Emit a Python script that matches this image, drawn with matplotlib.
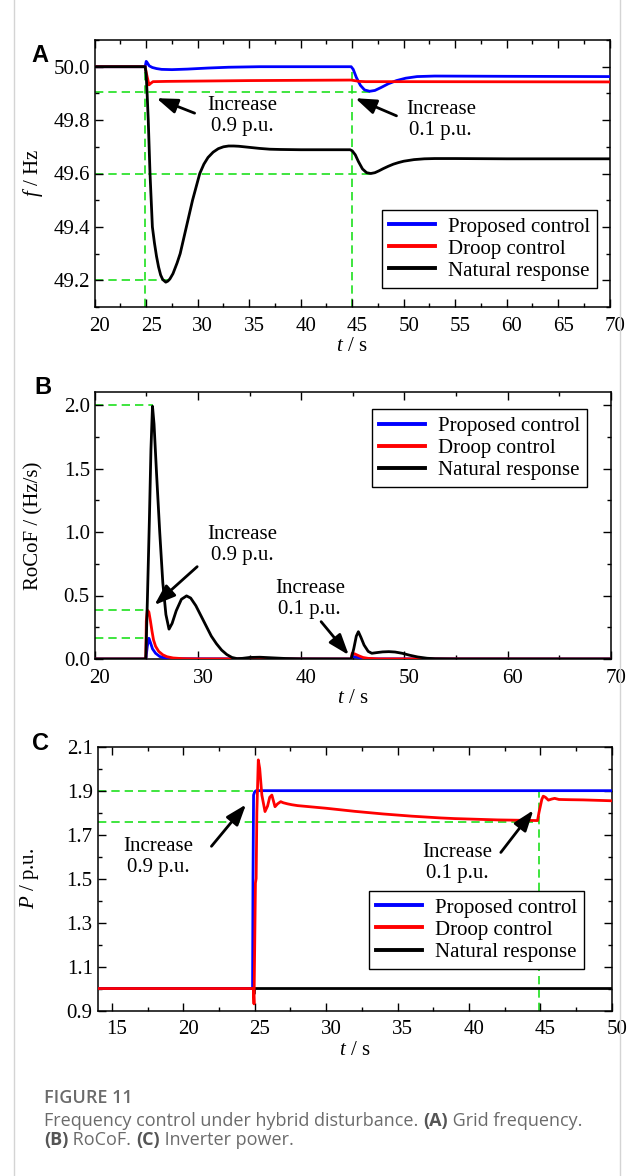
import matplotlib
matplotlib.use("Agg")
import matplotlib.pyplot as plt
import matplotlib.transforms as mtransforms
import numpy as np

plt.rcParams['font.family'] = ['Liberation Serif', 'DejaVu Serif']
plt.rcParams['mathtext.fontset'] = 'custom'
plt.rcParams['mathtext.rm'] = 'Liberation Serif'
plt.rcParams['mathtext.it'] = 'Liberation Serif:italic'

# ---------------- (A) grid frequency ----------------
tA_black = [20, 24.9, 25.0, 25.1, 25.2, 25.37, 25.6, 25.8, 26.0, 26.2, 26.4, 26.6, 26.9,
            27.1, 27.3, 27.6, 28.0, 28.3, 28.6, 28.9, 29.2, 29.5, 29.85, 30.2, 30.6, 31.0,
            31.5, 32.0, 32.5, 33.0, 33.5, 34.0, 35.0, 36.0, 37.0, 38.0, 40.0, 44.8, 45.0,
            45.3, 45.6, 46.0, 46.4, 46.8, 47.2, 47.6, 48.0, 48.5, 49.0, 49.5, 50.0, 51.0,
            52.0, 53.0, 55.0, 60.0, 70.0]
fA_black = [50.0, 50.0, 49.97, 49.89, 49.8, 49.6, 49.4, 49.34, 49.29, 49.25, 49.22, 49.203, 49.193,
            49.197, 49.205, 49.225, 49.265, 49.30, 49.35, 49.40, 49.45, 49.50, 49.55, 49.60, 49.635, 49.66,
            49.68, 49.693, 49.70, 49.703, 49.703, 49.702, 49.698, 49.694, 49.691, 49.69, 49.689, 49.689, 49.685,
            49.67, 49.645, 49.617, 49.603, 49.60, 49.603, 49.61, 49.618, 49.627, 49.635, 49.641, 49.646, 49.652,
            49.655, 49.656, 49.656, 49.655, 49.655]

tA_blue = [20, 24.9, 25.0, 25.1, 25.3, 25.6, 26.0, 26.5, 27.5, 29.0, 31.0, 33.0, 36.0, 44.9,
           45.1, 45.4, 45.8, 46.2, 46.7, 47.2, 47.8, 48.5, 49.3, 50.2, 51.3, 53.0, 60.0, 70.0]
fA_blue = [50.0, 50.0, 50.02, 50.015, 50.003, 49.997, 49.993, 49.99, 49.989, 49.991, 49.995, 49.998, 50.0, 50.0,
           49.99, 49.96, 49.93, 49.913, 49.908, 49.911, 49.922, 49.936, 49.948, 49.957, 49.963, 49.965, 49.964, 49.963]

tA_red = [20, 24.9, 25.05, 25.27, 25.45, 25.66, 27.0, 35.0, 44.9, 45.2, 45.7, 46.3, 50.0, 70.0]
fA_red = [50.0, 50.0, 49.97, 49.932, 49.938, 49.944, 49.945, 49.948, 49.95, 49.948, 49.945, 49.944, 49.944, 49.943]

# ---------------- (B) RoCoF ----------------
tB_black = [20, 24.95, 25.1, 25.3, 25.45, 25.6, 25.75, 26.0, 26.3, 26.6, 26.9, 27.2, 27.5, 27.9,
            28.4, 28.9, 29.3, 29.8, 30.3, 30.8, 31.3, 31.8, 32.3, 32.8, 33.3, 33.8, 34.3, 35.0,
            36.0, 37.0, 38.5, 40.0, 44.85, 45.1, 45.35, 45.55, 45.8, 46.1, 46.5, 46.85, 47.3,
            47.9, 48.5, 49.1, 49.8, 50.5, 51.3, 52.2, 53.0, 55.0, 70.0]
rB_black = [0, 0, 0.45, 1.1, 1.65, 1.99, 1.85, 1.45, 1.0, 0.6, 0.35, 0.235, 0.28, 0.38,
            0.47, 0.497, 0.48, 0.42, 0.34, 0.26, 0.18, 0.12, 0.07, 0.035, 0.012, 0.003, 0.005, 0.012,
            0.014, 0.01, 0.004, 0.001, 0, 0.08, 0.18, 0.215, 0.17, 0.11, 0.06, 0.045, 0.05,
            0.056, 0.058, 0.055, 0.045, 0.03, 0.016, 0.006, 0.002, 0, 0]

tB_red = [20, 24.95, 25.0, 25.1, 25.25, 25.4, 25.55, 25.7, 25.9, 26.2, 26.6, 27.0, 27.6, 28.5,
          30.0, 44.85, 44.95, 45.2, 45.6, 46.0, 46.5, 47.5, 70.0]
rB_red = [0, 0, 0.30, 0.385, 0.37, 0.30, 0.22, 0.15, 0.10, 0.06, 0.033, 0.018, 0.008, 0.003,
          0.001, 0, 0.045, 0.04, 0.025, 0.012, 0.005, 0.001, 0]

tB_blue = [20, 24.95, 25.1, 25.25, 25.4, 25.6, 25.9, 26.3, 26.8, 27.5, 29.0, 44.85, 45.0, 45.4,
           46.0, 47.0, 70.0]
rB_blue = [0, 0, 0.1, 0.163, 0.13, 0.08, 0.045, 0.02, 0.008, 0.003, 0.002, 0, 0.02, 0.015,
           0.005, 0.001, 0]

# ---------------- (C) inverter power ----------------
tC_black = [14, 24.9, 24.95, 25.0, 50.0]
pC_black = [1.0, 1.0, 0.975, 1.0, 1.0]

tC_blue = [14, 24.85, 24.88, 24.92, 25.0, 25.1, 44.9, 50.0]
pC_blue = [1.0, 1.0, 1.5, 1.88, 1.895, 1.9, 1.9, 1.9]

tC_red = [14, 24.9, 24.95, 25.0, 25.05, 25.1, 25.15, 25.25, 25.35, 25.5, 25.72, 25.9, 26.05, 26.2,
          26.42, 26.6, 26.82, 27.0, 27.3, 27.6, 28.0, 29.0, 30.0, 31.0, 32.0, 33.0, 34.0, 35.0,
          36.0, 37.0, 38.0, 39.0, 40.0, 41.0, 42.0, 43.0, 44.0, 44.8, 44.9, 45.0, 45.1, 45.2,
          45.35, 45.56, 45.8, 46.0, 46.3, 47.0, 48.0, 49.0, 50.0]
pC_red = [1.0, 1.0, 0.93, 1.2, 1.48, 1.5, 1.8, 2.04, 2.0, 1.88, 1.805, 1.83, 1.87, 1.88,
          1.827, 1.84, 1.85, 1.845, 1.84, 1.836, 1.832, 1.826, 1.82, 1.813, 1.806, 1.80, 1.794, 1.789,
          1.784, 1.78, 1.776, 1.773, 1.771, 1.769, 1.767, 1.766, 1.765, 1.764, 1.80, 1.83, 1.86, 1.875,
          1.87, 1.857, 1.862, 1.865, 1.86, 1.859, 1.858, 1.856, 1.854]

labels = ['Proposed control', 'Droop control', 'Natural response']

GREEN = '#1ee01e'
FS = 15
LW = 2.0


def style_axes(ax, xmaj, xmin, ymaj, ymin, yoff=0.0):
    ax.xaxis.set_major_locator(plt.MultipleLocator(xmaj))
    ax.xaxis.set_minor_locator(plt.MultipleLocator(xmin))
    ax.yaxis.set_major_locator(plt.MultipleLocator(ymaj, offset=yoff))
    ax.yaxis.set_minor_locator(plt.MultipleLocator(ymin))
    ax.tick_params(which='both', direction='in', top=True, right=True, width=1.0)
    ax.tick_params(which='major', length=6)
    ax.tick_params(which='minor', length=3)
    ax.tick_params(axis='x', pad=7, labelsize=FS)
    ax.tick_params(axis='y', pad=3.5, labelsize=FS)
    for s in ax.spines.values():
        s.set_linewidth(1.1)
    # tick labels sit a little right of their ticks in the original
    off = mtransforms.ScaledTranslation(5 / 100, 0, ax.figure.dpi_scale_trans)
    for lab in ax.get_xticklabels():
        lab.set_transform(lab.get_transform() + off)


def guide(ax, xs, ys):
    ax.plot(xs, ys, color=GREEN, lw=1.2, ls=(0, (5, 3)), zorder=1)


def note(ax, text, xy_text, xy_head, xy_tail):
    ax.text(xy_text[0], xy_text[1], text, ha='center', va='center', fontsize=FS,
            linespacing=1.15)
    ax.annotate('', xy=xy_head, xytext=xy_tail,
                arrowprops=dict(arrowstyle='-|>,head_length=0.7,head_width=0.25',
                                color='k', lw=2.0, mutation_scale=18, shrinkA=0, shrinkB=0))


def add_legend(ax, handles, loc, anchor):
    leg = ax.legend(handles, labels, loc=loc, bbox_to_anchor=anchor, borderaxespad=0, fontsize=FS,
                    fancybox=False, edgecolor='k', framealpha=1, borderpad=0.35,
                    labelspacing=0.12, handlelength=2.2, handletextpad=0.6)
    leg.get_frame().set_linewidth(1.0)
    for h in leg.get_lines():
        h.set_linewidth(2.8)


fig = plt.figure(figsize=(6.32, 11.76), dpi=100)

# light frame of the figure page
fig.add_artist(plt.Line2D([14 / 632, 14 / 632], [0, 1], color='#d4d4d4', lw=1.0))
fig.add_artist(plt.Line2D([620 / 632, 620 / 632], [0, 1], color='#d4d4d4', lw=1.0))

# ----- panel A -----
axA = fig.add_axes([94.7 / 632, 1 - 307 / 1176, 515 / 632, 267 / 1176])
guide(axA, [20, 46.8], [49.907, 49.907])
guide(axA, [20, 46.8], [49.6, 49.6])
guide(axA, [20, 27.6], [49.2, 49.2])
guide(axA, [24.9, 24.9], [49.1, 50.0])
guide(axA, [44.95, 44.95], [49.1, 50.0])
bA, = axA.plot(tA_blue, fA_blue, color='#0000ff', lw=LW, zorder=3)
rA, = axA.plot(tA_red, fA_red, color='#ff0000', lw=LW, zorder=3)
kA, = axA.plot(tA_black, fA_black, color='k', lw=LW, zorder=4)
axA.set_xlim(20, 70)
axA.set_ylim(49.1, 50.1)
style_axes(axA, 5, 2.5, 0.2, 0.1)
axA.yaxis.set_major_formatter(plt.FormatStrFormatter('%.1f'))
axA.set_xlabel(r'$t$ / s', fontsize=FS, labelpad=1)
axA.set_ylabel(r'$f$ / Hz', fontsize=FS)
axA.yaxis.set_label_coords(-0.0965, 0.5)
note(axA, 'Increase\n0.9 p.u.', (34.3, 49.816), (26.0, 49.882), (29.7, 49.826))
note(axA, 'Increase\n0.1 p.u.', (53.6, 49.80), (45.3, 49.882), (49.3, 49.816))
add_legend(axA, [bA, rA, kA], 'lower right', (0.9755, 0.071))

# ----- panel B -----
axB = fig.add_axes([94.7 / 632, 1 - 659 / 1176, 516 / 632, 266.7 / 1176])
guide(axB, [20, 25.65], [2.0, 2.0])
guide(axB, [20, 25.2], [0.385, 0.385])
guide(axB, [20, 25.3], [0.163, 0.163])
bB, = axB.plot(tB_blue, rB_blue, color='#0000ff', lw=LW, zorder=3)
rB, = axB.plot(tB_red, rB_red, color='#ff0000', lw=LW, zorder=3)
kB, = axB.plot(tB_black, rB_black, color='k', lw=LW, zorder=4)
axB.set_xlim(20, 70)
axB.set_ylim(0, 2.1)
style_axes(axB, 10, 5, 0.5, 0.25)
axB.yaxis.set_major_formatter(plt.FormatStrFormatter('%.1f'))
axB.set_xlabel(r'$t$ / s', fontsize=FS, labelpad=1)
axB.set_ylabel('RoCoF / (Hz/s)', fontsize=FS)
axB.yaxis.set_label_coords(-0.100, 0.5)
note(axB, 'Increase\n0.9 p.u.', (34.3, 0.895), (25.79, 0.425), (29.93, 0.727))
note(axB, 'Increase\n0.1 p.u.', (40.84, 0.471), (44.62, 0.031), (41.94, 0.294))
add_legend(axB, [bB, rB, kB], 'upper right', (0.954, 0.937))

# ----- panel C -----
axC = fig.add_axes([97.6 / 632, 1 - 1010.5 / 1176, 514.2 / 632, 263.8 / 1176])
guide(axC, [14, 24.95], [1.9, 1.9])
guide(axC, [14, 44.9], [1.758, 1.758])
guide(axC, [44.9, 44.9], [0.9, 1.895])
kC, = axC.plot(tC_black, pC_black, color='k', lw=LW, zorder=2)
bC, = axC.plot(tC_blue, pC_blue, color='#0000ff', lw=LW, zorder=3)
rC, = axC.plot(tC_red, pC_red, color='#ff0000', lw=LW, zorder=3)
axC.set_xlim(14, 50)
axC.set_ylim(0.9, 2.1)
style_axes(axC, 5, 2.5, 0.2, 0.1, yoff=0.1)
axC.yaxis.set_major_formatter(plt.FormatStrFormatter('%.1f'))
axC.set_xlabel(r'$t$ / s', fontsize=FS, labelpad=1)
axC.set_ylabel(r'$P$ / p.u.', fontsize=FS)
axC.yaxis.set_label_coords(-0.110, 0.5)
note(axC, 'Increase\n0.9 p.u.', (18.27, 1.597), (24.39, 1.837), (21.97, 1.647))
note(axC, 'Increase\n0.1 p.u.', (39.19, 1.573), (44.51, 1.811), (42.23, 1.619))
add_legend(axC, [bC, rC, kC], 'lower right', (0.946, 0.157))

# panel letters
for letter, px, py in [('A', 40, 55.7), ('B', 42.7, 388), ('C', 40.6, 744)]:
    fig.text(px / 632, 1 - py / 1176, letter, ha='center', va='center',
             fontsize=17, fontweight='bold', family='Liberation Sans')

# caption
cap = dict(family='Open Sans', fontsize=13, color='#6b6b6b')
fig.text(44 / 632, 1 - 1103.3 / 1176, 'FIGURE 11', va='baseline', fontweight='semibold',
         **cap)


def line(parts, x_px, base_px):
    # place segments one after another on the same baseline
    fig.canvas.draw()
    r = fig.canvas.get_renderer()
    x = x_px
    for txt, bold in parts:
        kw = dict(cap)
        if bold:
            kw['fontweight'] = 'bold'
            kw['color'] = '#555555'
        t = fig.text(x / 632, 1 - base_px / 1176, txt, va='baseline', **kw)
        x += t.get_window_extent(r).width


line([('Frequency control under hybrid disturbance. ', False), ('(A)', True),
      (' Grid frequency.', False)], 44, 1126)
line([('(B)', True), (' RoCoF. ', False), ('(C)', True), (' Inverter power.', False)], 44, 1145)

fig.savefig('out.png', dpi=100)
